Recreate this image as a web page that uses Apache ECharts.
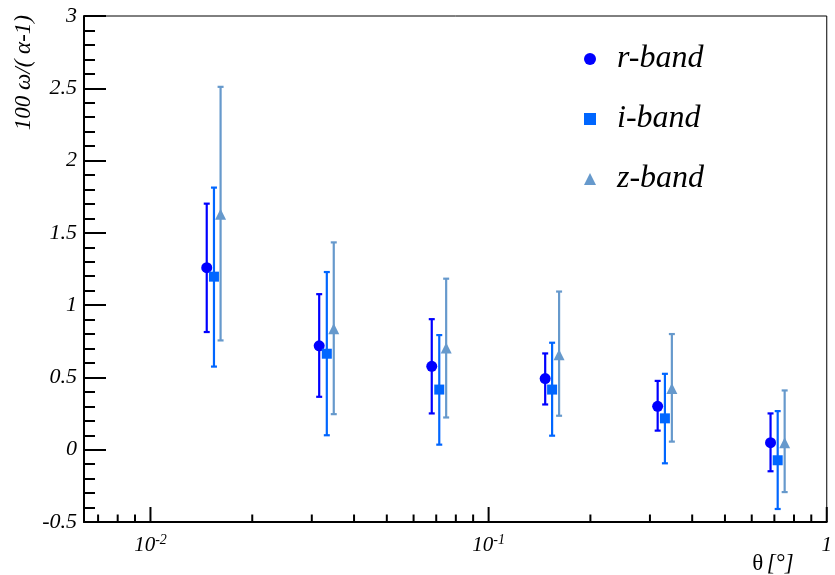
<!DOCTYPE html>
<html>
<head>
<meta charset="utf-8">
<script src="https://cdn.jsdelivr.net/npm/echarts@6/dist/echarts.min.js"></script>
<style>html,body{margin:0;padding:0;background:#fff;}#c{width:835px;height:575px;}</style>
</head>
<body>
<div id="c"></div>
<script>
// ---- data ----
var bandNames = ['r-band', 'i-band', 'z-band'];
var rTheta = [0.01467, 0.03155, 0.0679, 0.1470, 0.3162, 0.682];
var rValue = [1.259, 0.719, 0.577, 0.492, 0.300, 0.049];
var rLow   = [0.814, 0.366, 0.251, 0.313, 0.132, -0.149];
var rHigh  = [1.702, 1.076, 0.903, 0.666, 0.476, 0.251];

var iTheta = [0.01541, 0.03323, 0.07146, 0.1541, 0.3322, 0.716];
var iValue = [1.197, 0.664, 0.416, 0.416, 0.217, -0.073];
var iLow   = [0.575, 0.100, 0.035, 0.097, -0.094, -0.410];
var iHigh  = [1.813, 1.229, 0.793, 0.740, 0.525, 0.267];

var zTheta = [0.01612, 0.03484, 0.0749, 0.1616, 0.3483, 0.7508];
var zValue = [1.629, 0.837, 0.704, 0.657, 0.423, 0.049];
var zLow   = [0.756, 0.246, 0.223, 0.235, 0.056, -0.293];
var zHigh  = [2.510, 1.434, 1.183, 1.094, 0.800, 0.410];

var xMajorTicks = [0.01, 0.1, 1];
var xMinorTicks = [0.007, 0.008, 0.009, 0.02, 0.03, 0.04, 0.05, 0.06, 0.07, 0.08, 0.09,
                   0.2, 0.3, 0.4, 0.5, 0.6, 0.7, 0.8, 0.9];
var yTickLabels = ['-0.5', '0', '0.5', '1', '1.5', '2', '2.5', '3'];

// ---- styling ----
var colors = ['#0000ff', '#0066ff', '#6699cc'];
var symbols = ['circle', 'rect', 'triangle'];
var symbolSizes = [11, 10, 11];
var serif = '"Liberation Serif", "DejaVu Serif", serif';

function zip(a, b) { return a.map(function (v, k) { return [v, b[k]]; }); }
function zip3(a, b, c) { return a.map(function (v, k) { return [v, b[k], c[k]]; }); }

var bands = [
  { theta: rTheta, value: rValue, low: rLow, high: rHigh },
  { theta: iTheta, value: iValue, low: iLow, high: iHigh },
  { theta: zTheta, value: zValue, low: zLow, high: zHigh }
];

var series = [];
bands.forEach(function (b, k) {
  series.push({
    type: 'custom',
    name: bandNames[k] + '-err',
    data: zip3(b.theta, b.low, b.high),
    encode: { x: 0, y: [1, 2] },
    z: 2,
    clip: false,
    renderItem: function (params, api) {
      var x = api.value(0);
      var top = api.coord([x, api.value(2)]);
      var bot = api.coord([x, api.value(1)]);
      var c = colors[k];
      var hw = 3;
      return {
        type: 'group',
        children: [
          { type: 'line', shape: { x1: top[0], y1: top[1], x2: bot[0], y2: bot[1] }, style: { stroke: c, lineWidth: 2.2 } },
          { type: 'line', shape: { x1: top[0] - hw, y1: top[1], x2: top[0] + hw, y2: top[1] }, style: { stroke: c, lineWidth: 2.2 } },
          { type: 'line', shape: { x1: bot[0] - hw, y1: bot[1], x2: bot[0] + hw, y2: bot[1] }, style: { stroke: c, lineWidth: 2.2 } }
        ]
      };
    }
  });
});
bands.forEach(function (b, k) {
  series.push({
    type: 'scatter',
    name: bandNames[k],
    data: zip(b.theta, b.value),
    symbol: symbols[k],
    symbolSize: symbolSizes[k],
    itemStyle: { color: colors[k], opacity: 1 },
    z: 3
  });
});

// x axis ticks (decades and 2..9 subdivisions)
var xTickData = xMajorTicks.map(function (v) { return [v, 1]; })
  .concat(xMinorTicks.map(function (v) { return [v, 0]; }));
series.push({
  type: 'custom',
  name: 'xticks',
  data: xTickData,
  encode: { x: 0 },
  z: 5,
  clip: false,
  silent: true,
  renderItem: function (params, api) {
    var p = api.coord([api.value(0), -0.5]);
    var len = api.value(1) ? 15 : 7.5;
    return { type: 'line', shape: { x1: p[0], y1: p[1], x2: p[0], y2: p[1] - len }, style: { stroke: '#000', lineWidth: 2 } };
  }
});

var chart = echarts.init(document.getElementById('c'), null, { renderer: 'canvas' });
chart.setOption({
  animation: false,
  backgroundColor: '#fff',
  grid: { left: 84, right: 5, top: 16, bottom: 51, show: true, borderColor: '#000', borderWidth: 1, containLabel: false },
  legend: {
    orient: 'vertical',
    left: 579,
    top: 36,
    itemWidth: 12,
    itemHeight: 12,
    itemGap: 24,
    data: bandNames.map(function (n, k) { return { name: n, icon: symbols[k] }; }),
    textStyle: { fontFamily: serif, fontStyle: 'italic', fontSize: 32, lineHeight: 36, color: '#000', padding: [0, 0, 0, 16] }
  },
  xAxis: {
    type: 'log',
    logBase: 10,
    min: 0.00636,
    max: 1,
    splitLine: { show: false },
    axisTick: { show: false },
    minorTick: { show: false },
    axisLine: { onZero: false, lineStyle: { color: '#000', width: 2 } },
    name: '{u|θ} {i|[°]}',
    nameLocation: 'end',
    nameGap: -33,
    nameTextStyle: {
      align: 'right', verticalAlign: 'top', padding: [30, 0, 0, 0],
      rich: {
        u: { fontFamily: serif, fontSize: 23, color: '#000' },
        i: { fontFamily: serif, fontStyle: 'italic', fontSize: 23, color: '#000' }
      }
    },
    axisLabel: {
      margin: 11,
      showMinLabel: true,
      showMaxLabel: true,
      formatter: function (v) {
        var e = Math.log10(v);
        if (Math.abs(e - Math.round(e)) > 1e-6) return '';
        e = Math.round(e);
        if (e === 0) return '{b|1}';
        return '{b|10}{s|' + e + '}';
      },
      rich: {
        b: { fontFamily: serif, fontStyle: 'italic', fontSize: 21, color: '#000', lineHeight: 24 },
        s: { fontFamily: serif, fontStyle: 'italic', fontSize: 14, color: '#000', verticalAlign: 'top', lineHeight: 12 }
      }
    }
  },
  yAxis: {
    type: 'value',
    min: -0.5,
    max: 3,
    interval: 0.5,
    splitLine: { show: false },
    axisLine: { lineStyle: { color: '#000', width: 2 } },
    axisTick: { inside: true, length: 22, lineStyle: { color: '#000', width: 2 } },
    minorTick: { show: true, splitNumber: 5, length: 11, lineStyle: { color: '#000', width: 2 } },
    axisLabel: {
      margin: 7,
      fontFamily: serif, fontStyle: 'italic', fontSize: 22, color: '#000',
      formatter: function (v) {
        var idx = Math.round((v + 0.5) / 0.5);
        return yTickLabels[idx] !== undefined ? yTickLabels[idx] : String(v);
      }
    },
    name: '100 ω/( α-1)',
    nameLocation: 'end',
    nameRotate: 90,
    nameGap: 1,
    nameTextStyle: {
      fontFamily: serif, fontStyle: 'italic', fontSize: 23, color: '#000',
      align: 'right', verticalAlign: 'bottom', padding: [0, 0, 49, 0]
    }
  },
  series: series
});
</script>
</body>
</html>
